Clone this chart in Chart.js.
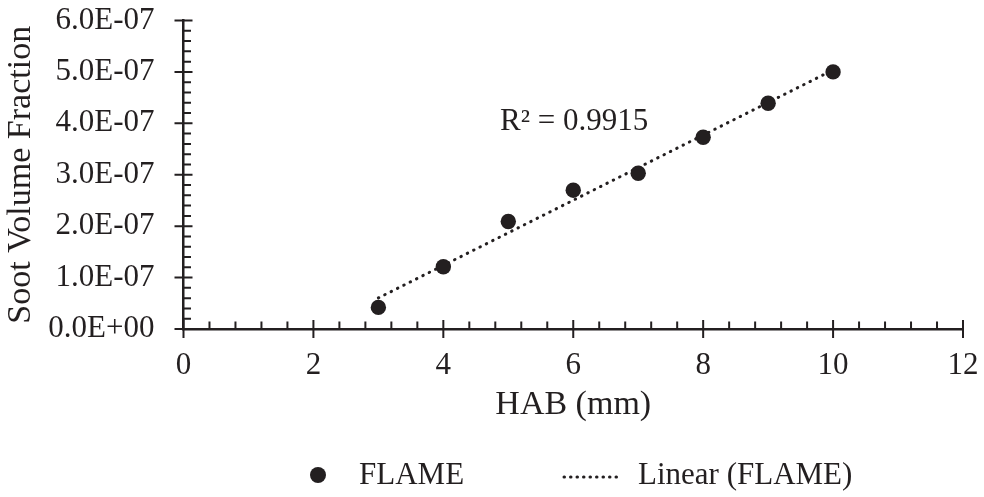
<!DOCTYPE html>
<html>
<head>
<meta charset="utf-8">
<title>Soot Volume Fraction vs HAB</title>
<script src="https://cdn.jsdelivr.net/npm/chart.js@4.4.1/dist/chart.umd.min.js"></script>
<style>
  html, body { margin: 0; padding: 0; background: #fff; }
  #sootChart { display: block; }
</style>
</head>
<body>
<canvas id="sootChart" width="984" height="497"></canvas>
<script>
// measured soot volume fraction along the flame
const hab = [3, 4, 5, 6, 7, 8, 9, 10];
const sootFraction = [4.2e-8, 1.21e-7, 2.09e-7, 2.70e-7, 3.03e-7, 3.73e-7, 4.39e-7, 5.00e-7];

const xTicks = [0, 2, 4, 6, 8, 10, 12];
const yTicks = [0, 1e-7, 2e-7, 3e-7, 4e-7, 5e-7, 6e-7];
const minorPerMajor = 5;

const rSquaredText = "R\u00B2 = 0.9915";
const seriesName = "FLAME";
const trendName = "Linear (FLAME)";

const ink = "#231f20";
const serif = '"Liberation Serif", "Times New Roman", serif';

// least squares line through the points, drawn over the data range
function linearFit(xs, ys) {
  const n = xs.length;
  const mx = xs.reduce((a, b) => a + b, 0) / n;
  const my = ys.reduce((a, b) => a + b, 0) / n;
  let sxy = 0, sxx = 0;
  xs.forEach((x, i) => {
    sxy += (x - mx) * (ys[i] - my);
    sxx += (x - mx) * (x - mx);
  });
  const slope = sxy / sxx;
  return { slope, intercept: my - slope * mx };
}

const fit = linearFit(hab, sootFraction);
const xFirst = Math.min(...hab);
const xLast = Math.max(...hab);
const trendPoints = [xFirst, xLast].map((x) => ({ x, y: fit.intercept + fit.slope * x }));

// 6e-7 -> "6.0E-07"
function sciLabel(v) {
  const [m, e] = Number(v).toExponential(1).split("e");
  const sign = e[0] === "-" ? "-" : "+";
  const digits = e.replace(/[+-]/, "").padStart(2, "0");
  return `${m}E${sign}${digits}`;
}

// keep the tick label overhang from shrinking the plot area
function fixScale(size) {
  return (s) => {
    if (s.isHorizontal()) s.height = size;
    else s.width = size;
    s.paddingTop = 0;
    s.paddingBottom = 0;
    s.paddingLeft = 0;
    s.paddingRight = 0;
  };
}

// Excel-style ticks: major ticks cross the axis, minor ticks sit inside the plot
const axisTicks = {
  id: "axisTicks",
  afterDraw(chart) {
    const { ctx, chartArea, scales } = chart;
    const xs = scales.x;
    const ys = scales.y;
    const majorHalf = 9;
    const minorLen = 7.5;

    ctx.save();
    ctx.strokeStyle = ink;
    ctx.lineWidth = 2;
    ctx.beginPath();

    const xStep = xTicks[1] - xTicks[0];
    xTicks.forEach((v, i) => {
      const px = xs.getPixelForValue(v);
      ctx.moveTo(px, chartArea.bottom - majorHalf);
      ctx.lineTo(px, chartArea.bottom + majorHalf);
      if (i < xTicks.length - 1) {
        for (let k = 1; k < minorPerMajor; k++) {
          const mpx = xs.getPixelForValue(v + (xStep * k) / minorPerMajor);
          ctx.moveTo(mpx, chartArea.bottom - minorLen);
          ctx.lineTo(mpx, chartArea.bottom);
        }
      }
    });

    const yStep = yTicks[1] - yTicks[0];
    yTicks.forEach((v, i) => {
      const py = ys.getPixelForValue(v);
      ctx.moveTo(chartArea.left - majorHalf, py);
      ctx.lineTo(chartArea.left + majorHalf, py);
      if (i < yTicks.length - 1) {
        for (let k = 1; k < minorPerMajor; k++) {
          const mpy = ys.getPixelForValue(v + (yStep * k) / minorPerMajor);
          ctx.moveTo(chartArea.left, mpy);
          ctx.lineTo(chartArea.left + minorLen, mpy);
        }
      }
    });
    ctx.stroke();
    ctx.restore();
  },
};

// R² note and the legend row under the axis title
const notes = {
  id: "notes",
  afterDraw(chart) {
    const { ctx, width, height } = chart;
    ctx.save();
    ctx.fillStyle = ink;
    ctx.font = `31px ${serif}`;
    ctx.textBaseline = "alphabetic";
    ctx.textAlign = "left";
    ctx.fillText(rSquaredText, 500, 130);

    const mid = width / 2;
    const rowY = height - 22;
    const textY = height - 13.5;

    ctx.beginPath();
    ctx.arc(mid - 174, rowY, 8, 0, Math.PI * 2);
    ctx.fill();
    ctx.fillText(seriesName, mid - 133, textY);

    ctx.strokeStyle = ink;
    ctx.lineWidth = 3;
    ctx.lineCap = "round";
    ctx.setLineDash([0.5, 6]);
    ctx.beginPath();
    ctx.moveTo(mid + 72, rowY + 2);
    ctx.lineTo(mid + 130, rowY + 2);
    ctx.stroke();
    ctx.setLineDash([]);

    ctx.fillText(trendName, mid + 146, textY);
    ctx.restore();
  },
};

const chart = new Chart(document.getElementById("sootChart"), {
  type: "scatter",
  data: {
    datasets: [
      {
        label: seriesName,
        data: hab.map((x, i) => ({ x, y: sootFraction[i] })),
        backgroundColor: ink,
        borderWidth: 0,
        pointRadius: 7.7,
        pointHoverRadius: 7.7,
      },
      {
        label: trendName,
        data: trendPoints,
        showLine: true,
        borderColor: ink,
        borderWidth: 3,
        borderCapStyle: "round",
        borderDash: [0.5, 6.6],
        pointRadius: 0,
        fill: false,
      },
    ],
  },
  options: {
    responsive: false,
    animation: false,
    layout: { padding: { left: 0, right: 21, top: 20.5, bottom: 72 } },
    plugins: {
      legend: { display: false },
      tooltip: { enabled: false },
    },
    scales: {
      x: {
        type: "linear",
        min: xTicks[0],
        max: xTicks[xTicks.length - 1],
        afterFit: fixScale(96),
        afterBuildTicks: (s) => { s.ticks = xTicks.map((v) => ({ value: v })); },
        grid: { display: false, drawTicks: false },
        border: { display: true, color: ink, width: 2.5 },
        ticks: {
          color: ink,
          padding: 18,
          font: { family: serif, size: 31 },
          maxRotation: 0,
          autoSkip: false,
        },
        title: {
          display: true,
          text: "HAB (mm)",
          color: ink,
          font: { family: serif, size: 34 },
          padding: { top: 0, bottom: 0 },
        },
      },
      y: {
        type: "linear",
        min: yTicks[0],
        max: yTicks[yTicks.length - 1],
        afterFit: fixScale(183.5),
        afterBuildTicks: (s) => { s.ticks = yTicks.map((v) => ({ value: v })); },
        grid: { display: false, drawTicks: false },
        border: { display: true, color: ink, width: 2.5 },
        ticks: {
          color: ink,
          padding: 29,
          font: { family: serif, size: 31 },
          autoSkip: false,
          callback: (v) => sciLabel(v),
        },
        title: {
          display: true,
          text: "Soot Volume Fraction",
          color: ink,
          font: { family: serif, size: 34 },
          padding: { top: 1, bottom: 0 },
        },
      },
    },
  },
  plugins: [axisTicks, notes],
});
</script>
</body>
</html>
